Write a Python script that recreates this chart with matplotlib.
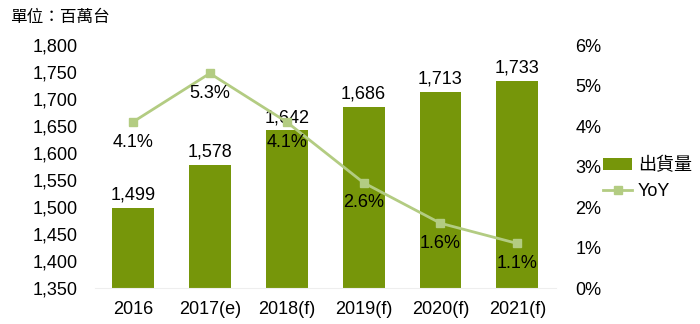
import matplotlib.pyplot as plt
from matplotlib.ticker import FuncFormatter

plt.rcParams['font.family'] = ['Liberation Sans', 'Noto Sans CJK TC', 'DejaVu Sans']

# 數據
years = ['2016', '2017(e)', '2018(f)', '2019(f)', '2020(f)', '2021(f)']
shipments = [1499, 1578, 1642, 1686, 1713, 1733]
yoy = [4.1, 5.3, 4.1, 2.6, 1.6, 1.1]

bar_color = '#76960A'
line_color = '#B3CC82'

fig = plt.figure(figsize=(7, 3.24), dpi=100)
ax = fig.add_axes([0.135, 0.111, 0.659, 0.75])
x = range(len(years))

ax.bar(x, shipments, width=0.545, color=bar_color, label='出貨量', zorder=2)
ax.set_ylim(1350, 1800)
ax.set_yticks(range(1350, 1801, 50))
ax.yaxis.set_major_formatter(FuncFormatter(lambda v, p: f'{int(v):,}'))
ax.set_xlim(-0.5, len(years) - 0.5)
ax.set_xticks(list(x))
ax.set_xticklabels(years)
ax.tick_params(length=0, labelsize=13, pad=12)
ax.tick_params(axis='x', pad=9)
for s in ax.spines.values():
    s.set_visible(False)
ax.spines['bottom'].set_visible(True)
ax.spines['bottom'].set_color('#EEEEEE')

for i, v in enumerate(shipments):
    ax.text(i, v + 8, f'{v:,}', ha='center', va='bottom', fontsize=13)

ax2 = ax.twinx()
ax2.plot(x, yoy, color=line_color, lw=2, marker='s', markersize=6, label='YoY', zorder=3)
ax2.set_ylim(0, 6)
ax2.set_yticks(range(0, 7))
ax2.yaxis.set_major_formatter(FuncFormatter(lambda v, p: f'{int(v)}%'))
ax2.tick_params(length=0, labelsize=13, pad=14)
for s in ax2.spines.values():
    s.set_visible(False)

for i, v in enumerate(yoy):
    ax2.text(i, v - 0.5, f'{v}%', ha='center', va='center', fontsize=13)

h1, l1 = ax.get_legend_handles_labels()
h2, l2 = ax2.get_legend_handles_labels()
fig.legend(h1 + h2, l1 + l2, loc='center left', bbox_to_anchor=(0.862, 0.448),
           frameon=False, fontsize=13, handlelength=1.6, handletextpad=0.3,
           labelspacing=0.5, borderaxespad=0, borderpad=0)

fig.text(0.015, 0.945, '單位：百萬台', fontsize=12, va='center', ha='left')

plt.savefig('out.png', dpi=100)
